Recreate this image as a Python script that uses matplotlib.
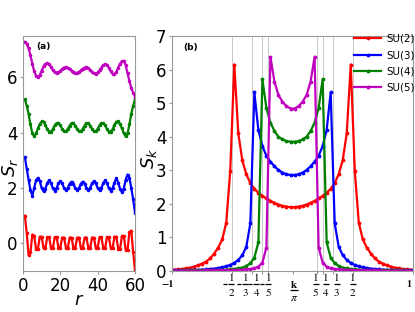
import numpy as np
import matplotlib
matplotlib.use('Agg')
import matplotlib.pyplot as plt
from matplotlib.transforms import blended_transform_factory, offset_copy

# ---- panel (a): S_r vs r ----
r = np.arange(1, 61)

sr_su2 = [1.00, 0.38, -0.43, -0.33, 0.32, 0.28, -0.22, -0.20, 0.24, 0.24,
          -0.17, -0.17, 0.22, 0.22, -0.16, -0.16, 0.22, 0.22, -0.16, -0.16,
          0.21, 0.21, -0.16, -0.16, 0.21, 0.21, -0.16, -0.16, 0.21, 0.21,
          -0.16, -0.16, 0.21, 0.21, -0.16, -0.16, 0.21, 0.21, -0.16, -0.16,
          0.22, 0.22, -0.16, -0.16, 0.22, 0.22, -0.17, -0.17, 0.24, 0.24,
          -0.19, -0.20, 0.27, 0.27, -0.23, -0.25, 0.40, 0.46, -0.30, -0.98]
sr_su3 = [3.12, 2.70, 2.30, 1.92, 1.73, 2.00, 2.28, 2.37, 2.25, 2.00,
          1.89, 1.98, 2.18, 2.28, 2.18, 1.99, 1.91, 2.00, 2.17, 2.25,
          2.17, 2.00, 1.93, 2.00, 2.16, 2.23, 2.16, 2.00, 1.93, 2.00,
          2.16, 2.23, 2.16, 2.00, 1.93, 2.00, 2.17, 2.25, 2.17, 2.00,
          1.92, 2.00, 2.18, 2.28, 2.18, 1.99, 1.91, 1.99, 2.20, 2.35,
          2.20, 1.97, 1.85, 1.98, 2.30, 2.49, 2.38, 2.00, 1.60, 1.10]
sr_su4 = [5.21, 4.98, 4.68, 4.30, 3.98, 3.87, 3.98, 4.16, 4.32, 4.41,
          4.40, 4.28, 4.13, 4.04, 4.04, 4.13, 4.27, 4.35, 4.35, 4.27,
          4.14, 4.05, 4.05, 4.14, 4.26, 4.35, 4.35, 4.26, 4.14, 4.05,
          4.05, 4.14, 4.26, 4.35, 4.35, 4.26, 4.14, 4.05, 4.05, 4.14,
          4.27, 4.35, 4.35, 4.27, 4.13, 4.04, 4.04, 4.13, 4.28, 4.40,
          4.41, 4.32, 4.16, 3.98, 3.87, 3.98, 4.30, 4.68, 4.98, 5.21]
sr_su5 = [7.29, 7.22, 7.05, 6.80, 6.50, 6.22, 6.05, 6.00, 6.08, 6.25,
          6.40, 6.49, 6.51, 6.47, 6.38, 6.27, 6.18, 6.15, 6.18, 6.24,
          6.31, 6.36, 6.37, 6.35, 6.30, 6.24, 6.19, 6.17, 6.17, 6.20,
          6.26, 6.32, 6.36, 6.37, 6.34, 6.27, 6.20, 6.15, 6.14, 6.18,
          6.26, 6.36, 6.44, 6.48, 6.45, 6.35, 6.22, 6.13, 6.12, 6.20,
          6.36, 6.50, 6.59, 6.60, 6.45, 6.15, 5.88, 5.62, 5.45, 5.31]

# ---- panel (b): S_k vs k/pi ----
k = (np.arange(-30, 30) + 0.5) / 30

sk_su2 = [0.04, 0.05, 0.06, 0.08, 0.10, 0.13, 0.17, 0.22, 0.28, 0.38,
          0.52, 0.70, 0.94, 1.44, 2.99, 6.15, 4.10, 3.30, 2.88, 2.62,
          2.45, 2.33, 2.24, 2.16, 2.09, 2.03, 1.98, 1.94, 1.92, 1.90,
          1.90, 1.92, 1.94, 1.98, 2.03, 2.09, 2.16, 2.24, 2.33, 2.45,
          2.62, 2.88, 3.30, 4.10, 6.15, 2.99, 1.44, 0.94, 0.70, 0.52,
          0.38, 0.28, 0.22, 0.17, 0.13, 0.10, 0.08, 0.06, 0.05, 0.04]
sk_su3 = [0.02, 0.02, 0.02, 0.025, 0.03, 0.03, 0.035, 0.04, 0.05, 0.06,
          0.07, 0.09, 0.11, 0.14, 0.18, 0.24, 0.33, 0.47, 0.72, 1.42,
          5.32, 4.20, 3.72, 3.43, 3.26, 3.12, 3.01, 2.93, 2.88, 2.86,
          2.86, 2.88, 2.93, 3.01, 3.12, 3.26, 3.43, 3.72, 4.20, 5.32,
          1.42, 0.72, 0.47, 0.33, 0.24, 0.18, 0.14, 0.11, 0.09, 0.07,
          0.06, 0.05, 0.04, 0.035, 0.03, 0.03, 0.025, 0.02, 0.02, 0.02]
sk_su4 = [0.01, 0.01, 0.015, 0.015, 0.015, 0.02, 0.02, 0.02, 0.02, 0.025,
          0.03, 0.03, 0.035, 0.04, 0.05, 0.06, 0.08, 0.10, 0.15, 0.23,
          0.40, 0.85, 5.71, 4.85, 4.42, 4.17, 4.00, 3.92, 3.87, 3.85,
          3.85, 3.87, 3.92, 4.00, 4.17, 4.42, 4.85, 5.71, 0.85, 0.40,
          0.23, 0.15, 0.10, 0.08, 0.06, 0.05, 0.04, 0.035, 0.03, 0.03,
          0.025, 0.02, 0.02, 0.02, 0.02, 0.015, 0.015, 0.015, 0.01, 0.01]
sk_su5 = [0.01, 0.01, 0.01, 0.01, 0.01, 0.01, 0.01, 0.01, 0.015, 0.015,
          0.015, 0.02, 0.02, 0.02, 0.025, 0.03, 0.03, 0.04, 0.05, 0.06,
          0.08, 0.13, 0.25, 0.70, 6.38, 5.64, 5.24, 5.04, 4.91, 4.84,
          4.84, 4.91, 5.04, 5.24, 5.64, 6.38, 0.70, 0.25, 0.13, 0.08,
          0.06, 0.05, 0.04, 0.03, 0.03, 0.025, 0.02, 0.02, 0.02, 0.015,
          0.015, 0.015, 0.01, 0.01, 0.01, 0.01, 0.01, 0.01, 0.01, 0.01]

labels = ['SU(2)', 'SU(3)', 'SU(4)', 'SU(5)']
colors = ['r', 'b', 'g', 'm']
fermi = [1/2, 1/3, 1/4, 1/5]

# fraction tick labels: (position, numerator, denominator, negative, shift in px)
frac_ticks = [(-1/2, '1', '2', True, -1), (-1/3, '1', '3', True, -7),
              (-1/4, '1', '4', True, -6), (-1/5, '1', '5', True, 0),
              (1/5, '1', '5', False, -1), (1/4, '1', '4', False, 3),
              (1/3, '1', '3', False, 4), (1/2, '1', '2', False, 0)]

fig = plt.figure(figsize=(4.15, 3.12), dpi=100)
ax1 = fig.add_axes([0.0554, 0.1314, 0.2699, 0.7532])
ax2 = fig.add_axes([0.4145, 0.1314, 0.5807, 0.7532])

for ys, c in zip([sr_su2, sr_su3, sr_su4, sr_su5], colors):
    ax1.plot(r, ys, color=c, marker='.', markersize=3, linewidth=1.6)
ax1.set_xlim(0, 60)
ax1.set_ylim(-1, 7.5)
ax1.set_xticks([0, 20, 40, 60])
ax1.set_yticks([0, 2, 4, 6])
ax1.set_xlabel(r'$r$', fontsize=13)
ax1.set_ylabel(r'$S_r$', fontsize=13)
ax1.xaxis.set_label_coords(0.5, -0.085)
ax1.yaxis.set_label_coords(-0.03, 0.443)
ax1.text(0.12, 0.955, '(a)', transform=ax1.transAxes, fontsize=6.5,
         fontweight='bold', va='center')

for f in fermi:
    ax2.axvline(-f, color='0.75', linewidth=0.6, zorder=0)
    ax2.axvline(f, color='0.75', linewidth=0.6, zorder=0)
for ys, c, lab in zip([sk_su2, sk_su3, sk_su4, sk_su5], colors, labels):
    ax2.plot(k, ys, color=c, marker='.', markersize=3.5, linewidth=1.6, label=lab)
ax2.set_xlim(-1, 1)
ax2.set_ylim(0, 7)
ax2.set_yticks(range(8))
ax2.set_xticks([-1] + [t[0] for t in frac_ticks[:4]] + [0] + [t[0] for t in frac_ticks[4:]] + [1])
ax2.set_xticklabels([])
ax2.set_ylabel(r'$S_k$', fontsize=13)
ax2.yaxis.set_label_coords(-0.056, 0.479)
ax2.text(0.045, 0.95, '(b)', transform=ax2.transAxes, fontsize=6.5,
         fontweight='bold', va='center')
ax2.legend(loc='upper right', bbox_to_anchor=(1.035, 1.035), frameon=False,
           fontsize=7.4, handlelength=2.6, handletextpad=0.55, labelspacing=0.6,
           borderaxespad=0.2)

# hand-built tick labels below the k axis (stacked fractions)
base = blended_transform_factory(ax2.transData, ax2.transAxes)
ynum, ybar, yden = -0.030, -0.057, -0.094
for x, num, den, neg, dx in frac_ticks:
    tr = offset_copy(base, fig=fig, x=dx, y=0, units='dots')
    ax2.text(x, ynum, num, transform=tr, ha='center', va='center',
             fontsize=8, family='STIXGeneral')
    ax2.text(x, yden, den, transform=tr, ha='center', va='center',
             fontsize=8, family='STIXGeneral')
    ax2.plot([x], [ybar], transform=tr, marker='_', markersize=5, markeredgewidth=0.9,
             color='k', clip_on=False)
    if neg:
        trm = offset_copy(base, fig=fig, x=dx - 6, y=0, units='dots')
        ax2.plot([x], [ybar], transform=trm, marker='_', markersize=3, markeredgewidth=0.9,
                 color='k', clip_on=False)
for x, txt, dx in [(-1, '\u22121', -5), (1, '1', -4)]:
    tr = offset_copy(base, fig=fig, x=dx, y=0, units='dots')
    ax2.text(x, -0.058, txt, transform=tr, ha='center', va='center',
             fontsize=7, family='STIXGeneral', fontweight='bold')
tr0 = offset_copy(base, fig=fig, x=1, y=0, units='dots')
ax2.text(0, -0.060, 'k', transform=tr0, ha='center', va='center',
         fontsize=8, family='STIXGeneral', fontweight='bold')
ax2.plot([0], [-0.081], transform=tr0, marker='_', markersize=5.5, markeredgewidth=0.9,
         color='k', clip_on=False)
ax2.text(0, -0.115, '\u03c0', transform=tr0, ha='center', va='center',
         fontsize=8.5, family='STIXGeneral', style='italic')

for ax in (ax1, ax2):
    for sp in ax.spines.values():
        sp.set_color('0.6')
    ax.tick_params(labelsize=12, length=2, color='0.6', pad=2)

fig.savefig('out.png', dpi=100)
